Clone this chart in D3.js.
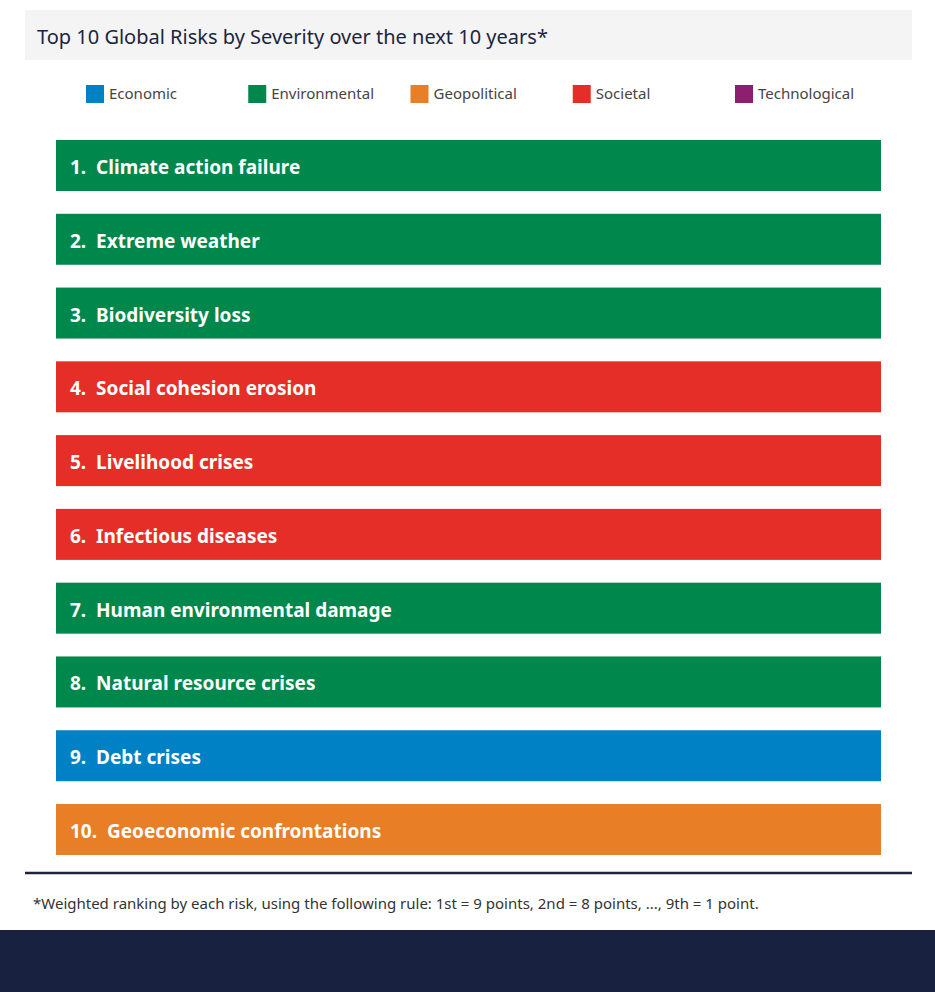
<!DOCTYPE html>
<html>
<head>
<meta charset="utf-8">
<script src="https://cdn.jsdelivr.net/npm/d3@7"></script>
<style>
  body { margin: 0; background: #fff; }
  text { font-family: "Noto Sans", sans-serif; }
</style>
</head>
<body>
<svg id="chart" width="935" height="992"></svg>
<script>
// top 10 risks, in rank order
let risks = [
    "Climate action failure",
    "Extreme weather",
    "Biodiversity loss",
    "Social cohesion erosion",
    "Livelihood crises",
    "Infectious diseases",
    "Human environmental damage",
    "Natural resource crises",
    "Debt crises",
    "Geoeconomic confrontations"
];
let riskCategory = [
    "Environmental", "Environmental", "Environmental",
    "Societal", "Societal", "Societal",
    "Environmental", "Environmental",
    "Economic", "Geopolitical"
];
let categories = ["Economic", "Environmental", "Geopolitical", "Societal", "Technological"];
let categoryColors = ["#0081c6", "#00874c", "#e87e26", "#e52e28", "#8e1f6e"];

let svg = d3.select("#chart");
let width = +svg.attr("width");
let height = +svg.attr("height");

let color = d3.scaleOrdinal().domain(categories).range(categoryColors);

// title box
svg.append('rect')
    .attr('x', 25).attr('y', 10)
    .attr('width', 887).attr('height', 50)
    .attr('fill', '#f4f4f4');

svg.append('text')
    .attr('x', 37).attr('y', 44)
    .attr('font-size', 20)
    .attr('fill', '#1b2540')
    .text('Top 10 Global Risks by Severity over the next 10 years*');

// legend
let legendX = d3.scalePoint().domain(categories).range([86, 735]);

let legend = svg.append('g').selectAll('g')
    .data(categories)
    .join('g')
    .attr('transform', d => `translate(${legendX(d)}, 85)`);

legend.append('rect')
    .attr('width', 18).attr('height', 18)
    .attr('fill', d => color(d));

legend.append('text')
    .attr('x', 23).attr('y', 14)
    .attr('font-size', 15)
    .attr('fill', '#444')
    .text(d => d);

// bars
let rows = risks.map((r, i) => ({ rank: i + 1, name: r, cat: riskCategory[i] }));

let y = d3.scaleBand()
    .domain(rows.map(d => d.rank))
    .range([140, 855])
    .paddingInner(0.309)
    .paddingOuter(0);

// every bar spans the full width (ranking only)
let x = d3.scaleLinear().domain([0, 1]).range([56, 881]);

let bars = svg.append('g').selectAll('g')
    .data(rows)
    .join('g')
    .attr('transform', d => `translate(0, ${y(d.rank)})`);

bars.append('rect')
    .attr('x', x(0))
    .attr('width', x(1) - x(0))
    .attr('height', y.bandwidth())
    .attr('fill', d => color(d.cat));

bars.append('text')
    .attr('x', 70).attr('y', y.bandwidth() / 2 + 8.5)
    .attr('font-size', 19)
    .attr('font-weight', 'bold')
    .attr('fill', '#fff')
    .attr('xml:space', 'preserve')
    .text(d => `${d.rank}.  ${d.name}`);

// separator + footnote
svg.append('line')
    .attr('x1', 25).attr('x2', 912)
    .attr('y1', 873).attr('y2', 873)
    .attr('stroke', '#1b2341')
    .attr('stroke-width', 2.5);

svg.append('text')
    .attr('x', 33).attr('y', 909)
    .attr('font-size', 15)
    .attr('fill', '#333')
    .text('*Weighted ranking by each risk, using the following rule: 1st = 9 points, 2nd = 8 points, ..., 9th = 1 point.');

// bottom band
svg.append('rect')
    .attr('x', 0).attr('y', 930)
    .attr('width', width).attr('height', height - 930)
    .attr('fill', '#18213f');
</script>
</body>
</html>
